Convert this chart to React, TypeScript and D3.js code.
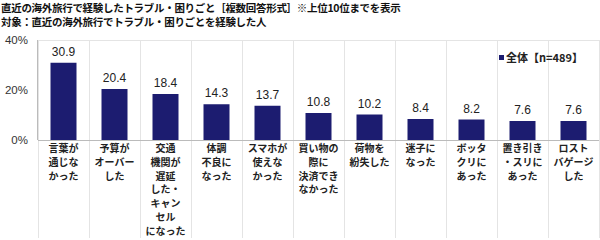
import React from "react";
import * as d3 from "d3";

const categories: string[][] = [
  ["言葉が", "通じな", "かった"],
  ["予算が", "オーバー", "した"],
  ["交通", "機関が", "遅延", "した・", "キャン", "セル", "になった"],
  ["体調", "不良に", "なった"],
  ["スマホが", "使えな", "かった"],
  ["買い物の", "際に", "決済でき", "なかった"],
  ["荷物を", "紛失した"],
  ["迷子に", "なった"],
  ["ボッタ", "クリに", "あった"],
  ["置き引き", "・スリに", "あった"],
  ["ロスト", "バゲージ", "した"],
];
const values: number[] = [30.9, 20.4, 18.4, 14.3, 13.7, 10.8, 10.2, 8.4, 8.2, 7.6, 7.6];
const yTicks: number[] = [0, 20, 40];
const titleLines: string[] = [
  "直近の海外旅行で経験したトラブル・困りごと［複数回答形式］※上位10位までを表示",
  "対象：直近の海外旅行でトラブル・困りごとを経験した人",
];
const legendLabel = "全体【n=489】";

export default function App() {
  const W = 600, H = 240;
  const left = 38, right = 599, top = 40, bottom = 140;
  const x = d3.scaleBand<number>().domain(d3.range(values.length)).range([left, right]).paddingInner(0).paddingOuter(0);
  const y = d3.scaleLinear().domain([0, 40]).range([bottom, top]);
  const barW = 26;
  const bw = x.bandwidth();
  const font = "'Noto Sans CJK JP', sans-serif";
  const numFont = "Arial, 'Liberation Sans', sans-serif";
  const color = "#1c1c70";
  return (
    <svg width={W} height={H} style={{ position: "fixed", left: 0, top: 0, background: "#fff" }}>
      <rect x={0} y={0} width={W} height={H} fill="#fff" />
      {titleLines.map((t, i) => (
        <text key={i} x={1} y={12 + i * 13.5} fontFamily={font} fontWeight="bold" fontSize={10.5} fill="#111" letterSpacing={-0.3}>
          {t}
        </text>
      ))}
      {d3.range(values.length + 1).map((i) => {
        const gx = i < values.length ? x(i)! : right;
        return <line key={i} x1={gx + 0.5} x2={gx + 0.5} y1={top} y2={238} stroke="#e4e4e4" strokeWidth={1} />;
      })}
      <line x1={left} x2={right} y1={y(40) + 0.5} y2={y(40) + 0.5} stroke="#e4e4e4" />
      <line x1={left - 0.5} x2={left - 0.5} y1={top} y2={bottom} stroke="#bbb" />
      <line x1={left} x2={right} y1={bottom + 0.5} y2={bottom + 0.5} stroke="#bbb" />
      {yTicks.map((t) => (
        <text key={t} x={28} y={y(t) + 4} textAnchor="end" fontFamily={numFont} fontSize={11.5} fill="#333">
          {t}%
        </text>
      ))}
      {values.map((v, i) => {
        const cx = x(i)! + bw / 2;
        return (
          <g key={i}>
            <rect x={cx - barW / 2} y={y(v)} width={barW} height={bottom - y(v)} fill={color} />
            <text x={cx} y={y(v) - 7} textAnchor="middle" fontFamily={numFont} fontSize={12} fill="#222">
              {v.toFixed(1)}
            </text>
            {categories[i].map((line, j) => (
              <text key={j} x={cx} y={152 + j * 13.8} textAnchor="middle" fontFamily={font} fontWeight="bold" fontSize={10} fill="#222">
                {line}
              </text>
            ))}
          </g>
        );
      })}
      <rect x={499} y={55} width={5} height={5} fill={color} />
      <text x={506} y={61.5} fontFamily={font} fontWeight="bold" fontSize={11} fill="#222">
        {legendLabel}
      </text>
    </svg>
  );
}
